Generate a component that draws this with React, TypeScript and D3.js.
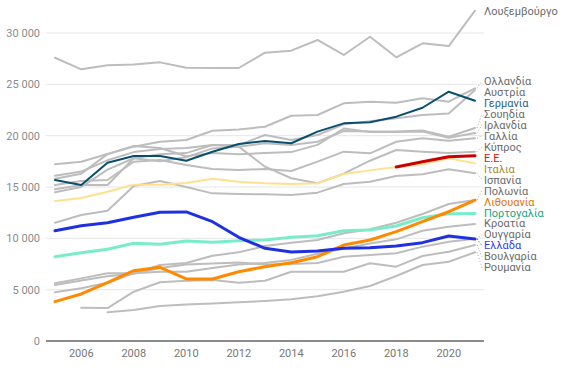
import * as d3 from "d3"

const years = [2005, 2006, 2007, 2008, 2009, 2010, 2011, 2012, 2013, 2014, 2015, 2016, 2017, 2018, 2019, 2020, 2021]
const yTicks = [0, 5000, 10000, 15000, 20000, 25000, 30000]
const xTicks = [2006, 2008, 2010, 2012, 2014, 2016, 2018, 2020]

type V = number | null

const luxembourg: V[] = [27590, 26460, 26850, 26920, 27140, 26620, 26590, 26590, 28080, 28280, 29320, 27860, 29640, 27630, 29000, 28730, 32170]
const netherlands: V[] = [17210, 17460, 18210, 18930, 19410, 19580, 20480, 20610, 20870, 21940, 22010, 23150, 23310, 23210, 23640, 23310, 24610]
const austria: V[] = [16100, 16500, 17600, 18400, 18700, 18800, 19090, 19090, 20060, 19580, 20060, 21100, 21400, 21690, 22010, 22170, 24450]
const germany: V[] = [15680, 15190, 17370, 18020, 18020, 17560, 18440, 19190, 19480, 19260, 20390, 21200, 21300, 21850, 22720, 24280, 23400]
const sweden: V[] = [14480, 15000, 16700, 17800, 17500, 17900, 18760, 18930, 19260, 19090, 19410, 20450, 20400, 20400, 20500, 19900, 20750]
const ireland: V[] = [15800, 16300, 18200, 19000, 18800, 18000, 18300, 18200, 18300, 18400, 19100, 20700, 20350, 20350, 20400, 19800, 20250]
const france: V[] = [15190, 15580, 15680, 17460, 17630, 17140, 16750, 16660, 16750, 16560, 17470, 18440, 18280, 19410, 19740, 19500, 19740]
const cyprus: V[] = [14780, 15190, 15190, 17800, 18180, 18300, 19090, 18930, 16980, 15850, 15360, 16300, 17560, 18600, 18440, 18300, 18440]
const eu: V[] = [null, null, null, null, null, null, null, null, null, null, null, null, null, 16950, 17460, 17950, 18050]
const italy: V[] = [13640, 13930, 14540, 15230, 15230, 15400, 15800, 15520, 15360, 15290, 15360, 16270, 16620, 16950, 17180, 17800, 17300]
const spain: V[] = [11520, 12270, 12690, 15100, 15580, 15000, 14380, 14320, 14290, 14220, 14450, 15290, 15520, 16080, 16240, 16720, 16330]
const poland: V[] = [5620, 6100, 6590, 6590, 7400, 7600, 8310, 8640, 9250, 9580, 9840, 10490, 10880, 11520, 12370, 13340, 13730]
const lithuania: V[] = [3830, 4580, 5680, 6850, 7180, 6040, 6040, 6750, 7240, 7630, 8210, 9350, 9840, 10650, 11620, 12590, 13730]
const portugal: V[] = [8210, 8600, 8930, 9520, 9420, 9740, 9610, 9770, 9840, 10100, 10260, 10740, 10810, 11200, 12000, 12400, 12430]
const croatia: V[] = [4740, 5130, 5680, 6590, 6750, 6750, 7100, 7450, 7600, 7900, 8500, 9000, 9500, 9900, 10740, 11130, 11400]
const hungary: V[] = [5450, 5900, 6300, 6550, 7100, 7450, 7550, 7650, 7450, 7500, 7600, 8210, 8380, 8540, 9190, 9670, 9950]
const greece: V[] = [10740, 11230, 11520, 12050, 12540, 12570, 11620, 10100, 9030, 8670, 8770, 9030, 9090, 9250, 9580, 10230, 9930]
const bulgaria: V[] = [null, 3240, 3210, 4800, 5720, 5870, 5940, 5680, 5870, 6750, 6750, 6750, 7570, 7240, 8280, 8700, 9350]
const romania: V[] = [null, null, 2800, 3020, 3410, 3550, 3650, 3770, 3900, 4060, 4350, 4800, 5360, 6330, 7400, 7720, 8640]

const GREY = "#bdbdbd"
const GREY_TEXT = "#6b6b6b"

type Series = { name: string; values: V[]; color: string; text: string; width: number }

const series: Series[] = [
  { name: "Λουξεμβούργο", values: luxembourg, color: GREY, text: GREY_TEXT, width: 2 },
  { name: "Ολλανδία", values: netherlands, color: GREY, text: GREY_TEXT, width: 2 },
  { name: "Αυστρία", values: austria, color: GREY, text: GREY_TEXT, width: 2 },
  { name: "Σουηδία", values: sweden, color: GREY, text: GREY_TEXT, width: 2 },
  { name: "Ιρλανδία", values: ireland, color: GREY, text: GREY_TEXT, width: 2 },
  { name: "Γαλλία", values: france, color: GREY, text: GREY_TEXT, width: 2 },
  { name: "Κύπρος", values: cyprus, color: GREY, text: GREY_TEXT, width: 2 },
  { name: "Ισπανία", values: spain, color: GREY, text: GREY_TEXT, width: 2 },
  { name: "Πολωνία", values: poland, color: GREY, text: GREY_TEXT, width: 2 },
  { name: "Κροατία", values: croatia, color: GREY, text: GREY_TEXT, width: 2 },
  { name: "Ουγγαρία", values: hungary, color: GREY, text: GREY_TEXT, width: 2 },
  { name: "Βουλγαρία", values: bulgaria, color: GREY, text: GREY_TEXT, width: 2 },
  { name: "Ρουμανία", values: romania, color: GREY, text: GREY_TEXT, width: 2 },
  { name: "Ιταλια", values: italy, color: "#ffe08f", text: "#a88a2c", width: 2 },
  { name: "Πορτογαλία", values: portugal, color: "#79ecc9", text: "#1aa584", width: 3 },
  { name: "Λιθουανία", values: lithuania, color: "#ff8a00", text: "#e57300", width: 3 },
  { name: "Ελλάδα", values: greece, color: "#1f30e0", text: "#2f40f0", width: 3 },
  { name: "Γερμανία", values: germany, color: "#0a4e6e", text: "#1f6391", width: 2 },
  { name: "Ε.Ε.", values: eu, color: "#cc0000", text: "#dd1111", width: 3 },
]

const W = 566
const H = 373
const x = d3.scaleLinear().domain([2005, 2021]).range([55, 475])
const y = d3.scaleLinear().domain([0, 30000]).range([341, 33])
const fmt = d3.formatLocale({ decimal: ",", thousands: " ", grouping: [3], currency: ["", ""] }).format(",")

const line = d3
  .line<V>()
  .defined((d) => d != null)
  .x((_, i) => x(years[i]))
  .y((d) => y(d as number))

// spread the end labels so they do not overlap
function placeLabels(ends: number[], gap: number) {
  const order = d3.range(ends.length).sort((a, b) => ends[a] - ends[b])
  const pos = order.map((i) => ends[i])
  for (let it = 0; it < 500; it++) {
    let moved = false
    for (let k = 1; k < pos.length; k++) {
      const overlap = gap - (pos[k] - pos[k - 1])
      if (overlap > 0.01) {
        pos[k - 1] -= overlap / 2
        pos[k] += overlap / 2
        moved = true
      }
    }
    if (!moved) break
  }
  const out: number[] = new Array(ends.length)
  order.forEach((i, k) => (out[i] = pos[k]))
  return out
}

export default function App() {
  const ends = series.map((s) => y(s.values[s.values.length - 1] as number))
  const labelY = placeLabels(ends, 11)
  const xEnd = x(2021)

  return (
    <svg width={W} height={H} style={{ position: "absolute", left: 0, top: 0, background: "#fff" }} fontFamily="Roboto, Arial, sans-serif">
      <g>
        {yTicks.map((t) => (
          <g key={t}>
            {t > 0 && <line x1={46} x2={484} y1={y(t)} y2={y(t)} stroke="#e6e6e6" strokeWidth={1} />}
            <text x={40} y={y(t)} dy="0.35em" textAnchor="end" fontSize={11} fill="#8c8c8c">
              {fmt(t)}
            </text>
          </g>
        ))}
        <line x1={46} x2={484} y1={y(0)} y2={y(0)} stroke="#666" strokeWidth={1.5} />
        {xTicks.map((t) => (
          <text key={t} x={x(t)} y={357} textAnchor="middle" fontSize={11} fill="#777">
            {t}
          </text>
        ))}
      </g>
      <g fill="none" strokeLinejoin="round" strokeLinecap="round">
        {series.map((s) => (
          <path key={s.name} d={line(s.values) || ""} stroke={s.color} strokeWidth={s.width} />
        ))}
      </g>
      <g>
        {series.map((s, i) => (
          <g key={s.name}>
            {Math.abs(labelY[i] - ends[i]) > 2 && (
              <line
                x1={xEnd + 2}
                y1={ends[i]}
                x2={482}
                y2={labelY[i]}
                stroke={s.color === GREY ? "#aaa" : s.color}
                strokeWidth={1}
                strokeDasharray="1,2"
              />
            )}
            <text x={484} y={labelY[i]} dy="0.35em" fontSize={11} fill={s.text}>
              {s.name}
            </text>
          </g>
        ))}
      </g>
    </svg>
  )
}
